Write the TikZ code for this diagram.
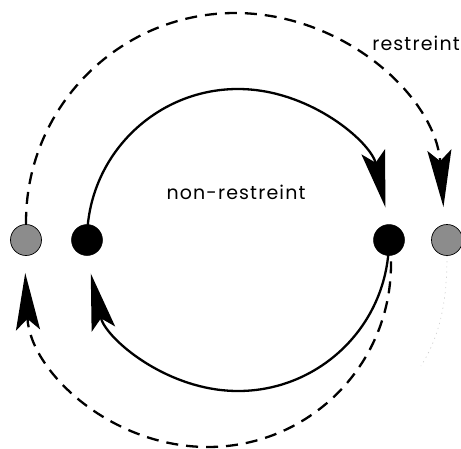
\documentclass[tikz,border=0pt]{standalone}
\usepackage{fontspec}
\setmainfont{Poppins}[LetterSpace=6]
\usetikzlibrary{arrows.meta}
\begin{document}
\begin{tikzpicture}[x=1pt,y=1pt,
  blacknode/.style={circle,fill=black,draw=black,line width=0.5pt,minimum size=31pt,inner sep=0pt},
  graynode/.style={circle,fill=black!45,draw=black,line width=0.7pt,minimum size=31pt,inner sep=0pt},
  bigtip/.tip={Stealth[length=57pt,width=24pt,inset=11pt]},
  solidarc/.style={line width=2.3pt,-bigtip},
  dasharc/.style={line width=2.3pt,dash pattern=on 12pt off 8pt,-bigtip},
  faint/.style={draw=black!18,line width=0.7pt,dash pattern=on 1.2pt off 4pt},
  lbl/.style={font=\fontsize{19}{22}\selectfont,inner sep=0pt}]
\useasboundingbox (0,0) rectangle (461,-448);
% circle centres
\coordinate (c1) at (238,-240);
\coordinate (c2) at (235,-222);
\coordinate (c3) at (208,-264);
% nodes
\node[graynode] (gl) at (26,-240) {};
\node[blacknode] (bl) at (87,-240) {};
\node[blacknode] (br) at (389,-240) {};
\node[graynode] (gr) at (447,-240) {};
% labels
\node[lbl] (lr) at (416,-43) {restreint};
\node[lbl] (lnr) at (236,-192) {non-restreint};
% solid arcs
\draw[solidarc] ([shift={(174.3:151)}]c1) arc[start angle=174.3,end angle=12.4,radius=151];
\draw[solidarc] ([shift={(-5.7:151)}]c1) arc[start angle=-5.7,end angle=-167.2,radius=151];
% dashed arcs
\draw[dasharc] ([shift={(180.5:209)}]c2) arc[start angle=180.5,end angle=4.1,radius=209];
\draw[dasharc] ([shift={(0.8:183)}]c3) arc[start angle=0.8,end angle=-177.2,radius=183];
% faint trace
\coordinate (fe) at (421,-366);
\draw[faint] (gr.south) .. controls (447,-310) and (437,-340) .. (fe);
\end{tikzpicture}
\end{document}
